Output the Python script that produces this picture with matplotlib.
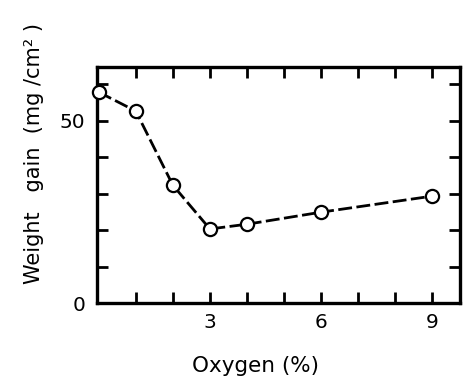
import matplotlib
matplotlib.use("Agg")
import matplotlib.pyplot as plt
from matplotlib.ticker import FixedLocator

# data
oxygen = [0, 1, 2, 3, 4, 6, 9]
weight_gain = [57.8, 52.6, 32.3, 20.3, 21.6, 24.9, 29.3]

x_major = [3, 6, 9]
x_minor = [1, 2, 4, 5, 7, 8]
y_major = [0, 50]
y_minor = [10, 20, 30, 40, 60]

plt.rcParams['font.family'] = ['DejaVu Sans']

fig = plt.figure(figsize=(4.68, 3.76), dpi=100)
ax = fig.add_axes([0.207, 0.194, 0.776, 0.628])

ax.plot(oxygen, weight_gain, color='black', linewidth=2.0,
        linestyle=(0, (5, 1.6)), marker='o', markersize=9.5,
        markerfacecolor='white', markeredgecolor='black',
        markeredgewidth=1.6, clip_on=False, zorder=3)

ax.set_xlim(-0.05, 9.75)
ax.set_ylim(0, 64.7)

ax.xaxis.set_major_locator(FixedLocator(x_major))
ax.xaxis.set_minor_locator(FixedLocator(x_minor))
ax.yaxis.set_major_locator(FixedLocator(y_major))
ax.yaxis.set_minor_locator(FixedLocator(y_minor))

for which in ('major', 'minor'):
    ax.tick_params(axis='both', which=which, direction='in', length=8,
                   width=2, top=True, right=True, color='black')
ax.tick_params(axis='both', which='major', labelsize=14.5)
ax.tick_params(axis='x', which='major', pad=7)
ax.tick_params(axis='y', which='major', pad=8.5)

for s in ax.spines.values():
    s.set_linewidth(2.4)

# axis titles placed where they sit in the reference
fig.text(256 / 468, 1 - 372 / 376, 'Oxygen (%)', fontsize=15.5,
         ha='center', va='baseline')
fig.text(34 / 468, 1 - 153 / 376, 'Weight   gain  (mg /cm² )', fontsize=15,
         rotation=90, ha='center', va='center')

fig.savefig('out.png', dpi=100)
